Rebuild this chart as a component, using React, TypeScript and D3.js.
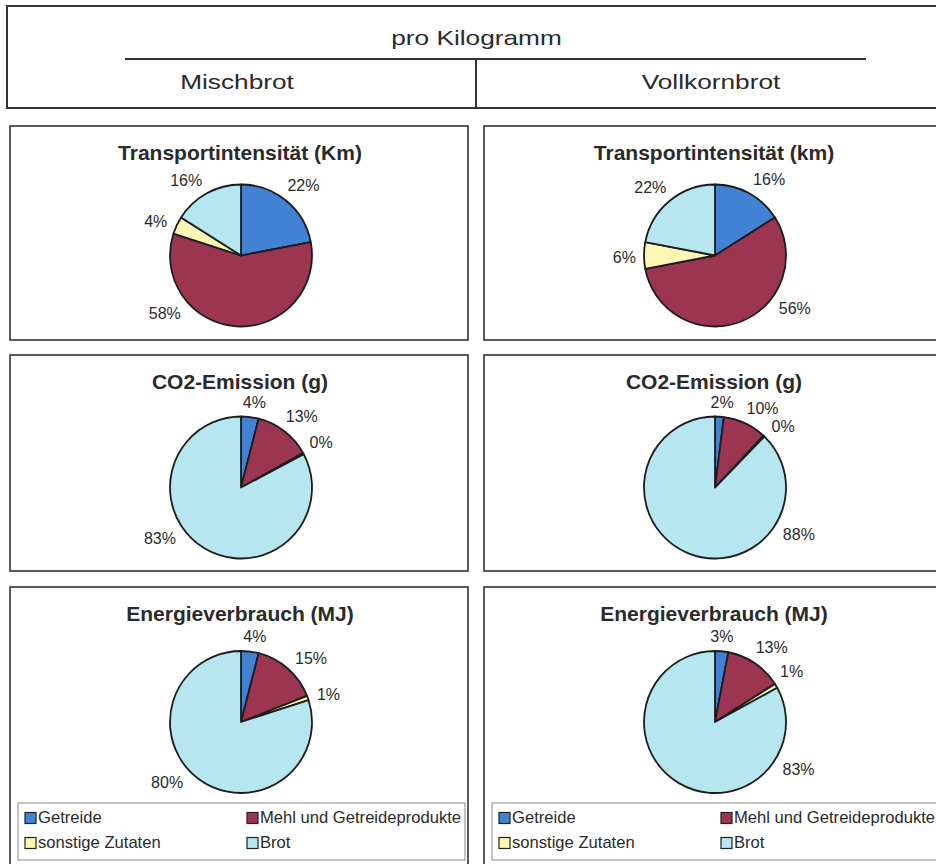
import React from "react";
import * as d3 from "d3";

// ---------- data ----------
const categories = ["Getreide", "Mehl und Getreideprodukte", "sonstige Zutaten", "Brot"];
const categoryColors = ["#4282d5", "#9c3551", "#fdf6b4", "#b6e6ef"];
const columnLabels = ["Mischbrot", "Vollkornbrot"];
const headerLabel = "pro Kilogramm";
const titlesMisch = ["Transportintensität (Km)", "CO2-Emission (g)", "Energieverbrauch (MJ)"];
const titlesVoll = ["Transportintensität (km)", "CO2-Emission (g)", "Energieverbrauch (MJ)"];

const transportMisch = [22, 58, 4, 16];
const transportVoll = [16, 56, 6, 22];
const co2Misch = [4, 13, 0.3, 83];
const co2Voll = [2, 10, 0.3, 88];
const energyMisch = [4, 15, 1, 80];
const energyVoll = [3, 13, 1, 83];

// label directions (degrees clockwise from 12 o'clock), as placed in the original
const labelDirTransportMisch = [41.6, 233, 292, 324];
const labelDirTransportVoll = [35.5, 123.5, 268.7, 316.7];
const labelDirCo2Misch = [8.9, 40.3, 60.6, 237.8];
const labelDirCo2Voll = [4.7, 31, 48, 119];
const labelDirEnergyMisch = [9.2, 47.6, 72.4, 230.9];
const labelDirEnergyVoll = [4.6, 37.3, 56.5, 119.4];

// ---------- layout ----------
const W = 936;
const H = 864;
const FONT = "'Liberation Sans', Arial, Helvetica, sans-serif";
const panelLefts = [10, 484];
const panelWidth = 458;
const rowTops = [126, 355, 587];
const rowHeights = [214, 216, 300];
const pieCenterDy = [129.5, 132.5, 135];
const R = 71;
const labelFont = 16;

const charts = [
  [
    { title: titlesMisch[0], values: transportMisch, dirs: labelDirTransportMisch },
    { title: titlesVoll[0], values: transportVoll, dirs: labelDirTransportVoll },
  ],
  [
    { title: titlesMisch[1], values: co2Misch, dirs: labelDirCo2Misch },
    { title: titlesVoll[1], values: co2Voll, dirs: labelDirCo2Voll },
  ],
  [
    { title: titlesMisch[2], values: energyMisch, dirs: labelDirEnergyMisch },
    { title: titlesVoll[2], values: energyVoll, dirs: labelDirEnergyVoll },
  ],
];

const pieGen = d3.pie<number>().sort(null).value((d) => d).startAngle(0).endAngle(2 * Math.PI);
const arcGen = d3.arc<d3.PieArcDatum<number>>().innerRadius(0).outerRadius(R);

function Pie({ cx, cy, values, dirs }: { cx: number; cy: number; values: number[]; dirs: number[] }) {
  const arcs = pieGen(values);
  return (
    <g transform={`translate(${cx},${cy})`}>
      {arcs.map((a, i) => (
        <path key={i} d={arcGen(a) || ""} fill={categoryColors[i]} stroke="#1c1c1c" strokeWidth={1.8} strokeLinejoin="round" />
      ))}
      {arcs.map((a, i) => {
        const txt = `${Math.round(values[i])}%`;
        const digits = txt.length - 1;
        const w = (digits * 0.556 + 0.889) * labelFont;
        const h = 12;
        const th = (dirs[i] * Math.PI) / 180;
        const sx = Math.sin(th);
        const cyy = -Math.cos(th);
        const ext = Math.abs(sx) * (w / 2) + Math.abs(cyy) * (h / 2);
        const d = R + 8 + ext;
        const x = sx * d;
        const y = cyy * d;
        return (
          <text key={"l" + i} x={x} y={y + 5.8} textAnchor="middle" fontSize={labelFont} fontFamily={FONT} fill="#2a2a2a">
            {txt}
          </text>
        );
      })}
    </g>
  );
}

export default function App() {
  return (
    <svg width={W} height={H} style={{ position: "absolute", left: 0, top: 0, display: "block", background: "#fff" }}>
      <rect x={0} y={0} width={W} height={H} fill="#fff" />
      {/* header */}
      <rect x={7} y={6} width={940} height={102} fill="none" stroke="#333" strokeWidth={2} />
      <line x1={125} x2={866} y1={59} y2={59} stroke="#333" strokeWidth={2} />
      <line x1={476} x2={476} y1={59} y2={108} stroke="#333" strokeWidth={2} />
      <text transform="translate(476.5,45) scale(1.25,1)" textAnchor="middle" fontSize={21} fontFamily={FONT} fill="#2a2a2a">
        {headerLabel}
      </text>
      {columnLabels.map((c, i) => (
        <text key={c} transform={`translate(${[237, 711][i]},89) scale(1.25,1)`} textAnchor="middle" fontSize={21} fontFamily={FONT} fill="#2a2a2a">
          {c}
        </text>
      ))}
      {charts.map((row, ri) =>
        row.map((ch, ci) => {
          const left = panelLefts[ci];
          const top = rowTops[ri];
          const cx = left + 231;
          const cy = top + pieCenterDy[ri];
          return (
            <g key={`${ri}-${ci}`}>
              <rect x={left} y={top} width={panelWidth} height={rowHeights[ri]} fill="#fff" stroke="#333" strokeWidth={1.6} />
              <text x={left + 230} y={top + 34} textAnchor="middle" fontSize={21} fontWeight="bold" fontFamily={FONT} fill="#2a2a2a">
                {ch.title}
              </text>
              <Pie cx={cx} cy={cy} values={ch.values} dirs={ch.dirs} />
              {ri === 2 && (
                <g transform={`translate(${left + 8},${top + 216})`}>
                  <rect x={0} y={0} width={447} height={57} fill="#fff" stroke="#8a8a8a" strokeWidth={1} />
                  {categories.map((cat, k) => {
                    const col = k % 2;
                    const r2 = Math.floor(k / 2);
                    const sx = 7 + col * 222;
                    const by = 20 + r2 * 25;
                    return (
                      <g key={cat}>
                        <rect x={sx} y={by - 10.5} width={11} height={11} fill={categoryColors[k]} stroke="#222" strokeWidth={1.2} />
                        <text x={sx + 13} y={by} fontSize={16.6} fontFamily={FONT} fill="#2a2a2a">
                          {cat}
                        </text>
                      </g>
                    );
                  })}
                </g>
              )}
            </g>
          );
        })
      )}
    </svg>
  );
}
